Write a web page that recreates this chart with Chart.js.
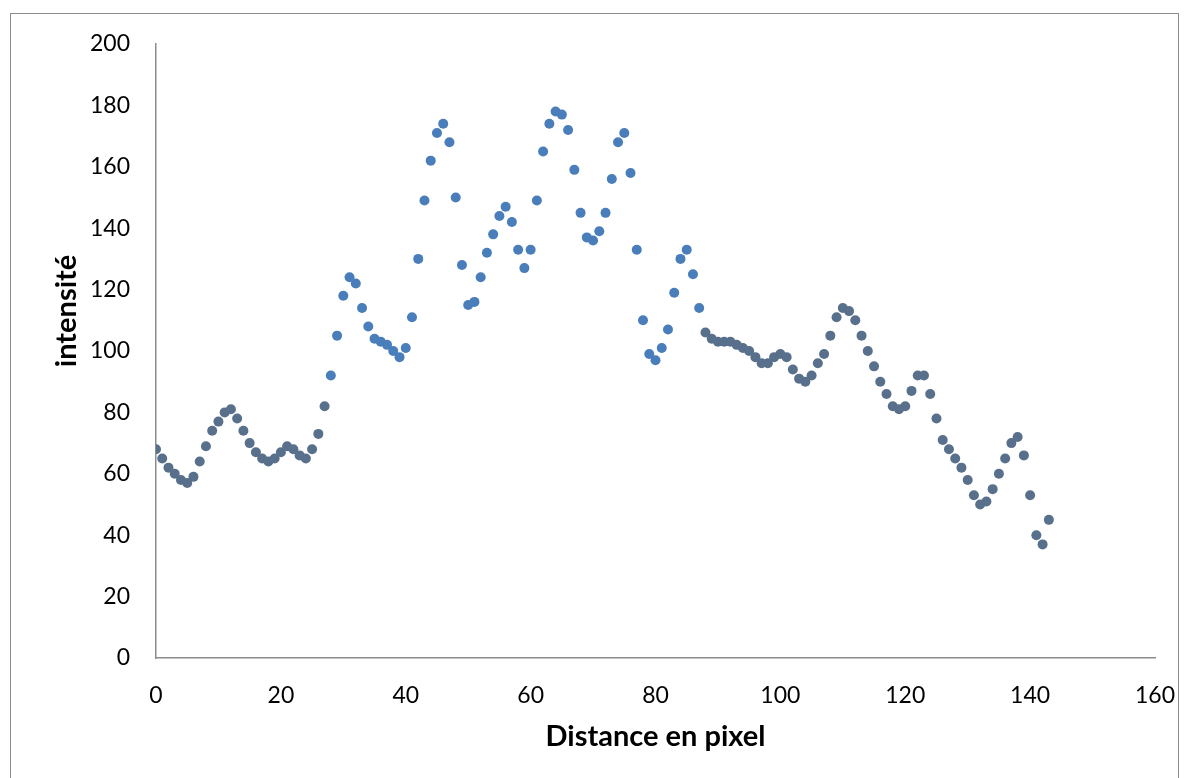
<!DOCTYPE html>
<html>
<head>
<meta charset="utf-8">
<script src="https://cdn.jsdelivr.net/npm/chart.js@4/dist/chart.umd.min.js"></script>
<style>
	body { margin: 0; background: #fff; }
	#wrap { position: relative; width: 1189px; height: 778px; }
	#frame { position: absolute; left: 10px; top: 13px; width: 1167px; height: 780px; border: 1.5px solid #8c8c8c; border-bottom: none; }
	canvas { position: absolute; left: 0; top: 0; }
</style>
</head>
<body>
<div id="wrap">
	<div id="frame"></div>
	<canvas id="chart" width="1189" height="778"></canvas>
</div>
<script>
const distance = [
	0, 1, 2, 3, 4, 5, 6, 7, 8, 9, 10, 11, 12, 13, 14, 15, 16, 17, 18, 19,
	20, 21, 22, 23, 24, 25, 26, 27, 28, 29, 30, 31, 32, 33, 34, 35, 36, 37, 38, 39,
	40, 41, 42, 43, 44, 45, 46, 47, 48, 49, 50, 51, 52, 53, 54, 55, 56, 57, 58, 59,
	60, 61, 62, 63, 64, 65, 66, 67, 68, 69, 70, 71, 72, 73, 74, 75, 76, 77, 78, 79,
	80, 81, 82, 83, 84, 85, 86, 87, 88, 89, 90, 91, 92, 93, 94, 95, 96, 97, 98, 99,
	100, 101, 102, 103, 104, 105, 106, 107, 108, 109, 110, 111, 112, 113, 114, 115, 116, 117, 118, 119,
	120, 121, 122, 123, 124, 125, 126, 127, 128, 129, 130, 131, 132, 133, 134, 135, 136, 137, 138, 139,
	140, 141, 142, 143
]
const intensite = [
	68, 65, 62, 60, 58, 57, 59, 64, 69, 74, 77, 80, 81, 78, 74, 70, 67, 65, 64, 65,
	67, 69, 68, 66, 65, 68, 73, 82, 92, 105, 118, 124, 122, 114, 108, 104, 103, 102, 100, 98,
	101, 111, 130, 149, 162, 171, 174, 168, 150, 128, 115, 116, 124, 132, 138, 144, 147, 142, 133, 127,
	133, 149, 165, 174, 178, 177, 172, 159, 145, 137, 136, 139, 145, 156, 168, 171, 158, 133, 110, 99,
	97, 101, 107, 119, 130, 133, 125, 114, 106, 104, 103, 103, 103, 102, 101, 100, 98, 96, 96, 98,
	99, 98, 94, 91, 90, 92, 96, 99, 105, 111, 114, 113, 110, 105, 100, 95, 90, 86, 82, 81,
	82, 87, 92, 92, 86, 78, 71, 68, 65, 62, 58, 53, 50, 51, 55, 60, 65, 70, 72, 66,
	53, 40, 37, 45
]
const xTicks = [0, 20, 40, 60, 80, 100, 120, 140, 160]
const yTicks = [0, 20, 40, 60, 80, 100, 120, 140, 160, 180, 200]

const points = distance.map((x, i) => ({ x: x, y: intensite[i] }))

// vertical title drawn by hand, Excel puts it a bit above the middle
const yTitle = {
	id: "yTitle",
	afterDraw(chart) {
		const ctx = chart.ctx
		const area = chart.chartArea
		ctx.save()
		ctx.translate(67, (area.top + area.bottom) / 2 - 40)
		ctx.rotate(-Math.PI / 2)
		ctx.font = "bold 29px Lato"
		ctx.fillStyle = "#000"
		ctx.textAlign = "center"
		ctx.textBaseline = "middle"
		ctx.fillText("intensité", 0, 0)
		ctx.restore()
	}
}

new Chart(document.getElementById("chart"), {
	type: "scatter",
	data: {
		datasets: [{
			label: "intensité",
			data: points,
			pointRadius: 5,
			pointHoverRadius: 5,
			borderWidth: 0,
			backgroundColor: c => (c.dataIndex < 28 || c.dataIndex > 87) ? "#58708c" : "#4a7ebb",
		}]
	},
	options: {
		responsive: false,
		animation: false,
		layout: { padding: { top: 44, right: 34, left: 0, bottom: 0 } },
		plugins: {
			legend: { display: false },
			tooltip: { enabled: false }
		},
		scales: {
			x: {
				type: "linear",
				min: 0,
				max: 160,
				afterBuildTicks: s => { s.ticks = xTicks.map(v => ({ value: v })) },
				afterFit: s => { s.height = 120; s.paddingRight = 0; s.paddingLeft = 0 },
				grid: { display: false, drawTicks: false },
				border: { color: "#8c8c8c", width: 1.5 },
				ticks: { padding: 24, color: "#000", font: { family: "Lato", size: 23 }, maxRotation: 0 },
				title: {
					display: true,
					text: "Distance en pixel",
					color: "#000",
					font: { family: "Lato", size: 29, weight: "bold" },
					padding: { top: 0, bottom: 24 }
				}
			},
			y: {
				min: 0,
				max: 200,
				afterBuildTicks: s => { s.ticks = yTicks.map(v => ({ value: v })) },
				afterFit: s => { s.width = 156 },
				grid: { display: false, drawTicks: false },
				border: { color: "#8c8c8c", width: 1.5 },
				ticks: { padding: 26, color: "#000", font: { family: "Lato", size: 23 } }
			}
		}
	},
	plugins: [yTitle]
})
</script>
</body>
</html>
